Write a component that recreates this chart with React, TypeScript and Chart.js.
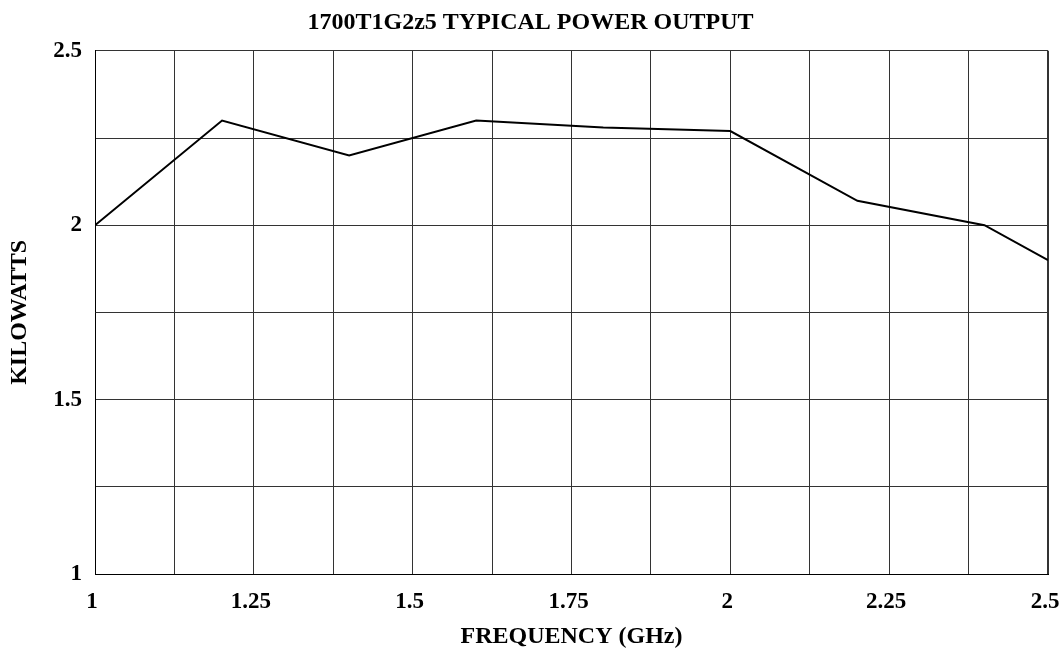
import React, { useEffect, useRef } from "react";
import { Chart, registerables } from "chart.js";

Chart.register(...registerables);

const frequencies = [1.0, 1.2, 1.4, 1.6, 1.8, 2.0, 2.2, 2.4, 2.5];
const kilowatts = [2.0, 2.3, 2.2, 2.3, 2.28, 2.27, 2.07, 2.0, 1.9];

const titleText = "1700T1G2z5 TYPICAL POWER OUTPUT";
const xTitle = "FREQUENCY (GHz)";
const yTitle = "KILOWATTS";

const FONT = "'Liberation Serif', 'Times New Roman', serif";

export default function App() {
  const ref = useRef<HTMLCanvasElement | null>(null);

  useEffect(() => {
    if (!ref.current) return;
    const chart = new Chart(ref.current, {
      type: "line",
      data: {
        datasets: [
          {
            data: frequencies.map((f, i) => ({ x: f, y: kilowatts[i] })),
            borderColor: "#000",
            borderWidth: 2,
            pointRadius: 0,
            tension: 0,
            fill: false,
          },
        ],
      },
      options: {
        animation: false,
        responsive: false,
        devicePixelRatio: 1,
        layout: { padding: 0 },
        plugins: {
          legend: { display: false },
          tooltip: { enabled: false },
          title: {
            display: true,
            text: titleText,
            color: "#000",
            font: { family: FONT, size: 24, weight: "bold", lineHeight: 1.2 },
            padding: { top: 8, bottom: 14 },
          },
        },
        scales: {
          x: {
            type: "linear",
            min: 1,
            max: 2.5,
            border: { display: true, color: "#000", width: 1 },
            grid: {
              color: "#333",
              lineWidth: (ctx: any) => (ctx.index === 12 ? 2 : 1),
              drawTicks: false,
            },
            ticks: {
              stepSize: 0.125,
              autoSkip: false,
              maxRotation: 0,
              padding: 14,
              labelOffset: -3,
              color: "#000",
              font: { family: FONT, size: 23, weight: "bold" },
              callback: (v: any) => {
                const n = Number(v);
                return Math.abs(n * 4 - Math.round(n * 4)) < 1e-6 ? String(n) : "";
              },
            },
            title: {
              display: true,
              text: xTitle,
              color: "#000",
              font: { family: FONT, size: 24, weight: "bold", lineHeight: 1 },
              padding: { top: 0, bottom: 0 },
            },
            afterFit: (s: any) => {
              s.height = 75;
              s.paddingLeft = 0;
              s.paddingRight = 13;
            },
          },
          y: {
            type: "linear",
            min: 1,
            max: 2.5,
            border: { display: true, color: "#000", width: 1 },
            grid: { color: "#333", lineWidth: 1, drawTicks: false },
            ticks: {
              stepSize: 0.25,
              autoSkip: false,
              padding: 13,
              color: "#000",
              font: { family: FONT, size: 23, weight: "bold" },
              callback: (v: any) => {
                const n = Number(v);
                return Math.abs(n * 2 - Math.round(n * 2)) < 1e-6 ? String(n) : "";
              },
            },
            title: {
              display: true,
              text: yTitle,
              color: "#000",
              font: { family: FONT, size: 24, weight: "bold", lineHeight: 1 },
              padding: { top: 7.5, bottom: 0 },
            },
            afterFit: (s: any) => {
              s.width = 95;
            },
          },
        },
      },
    });
    return () => chart.destroy();
  }, []);

  return (
    <div style={{ position: "fixed", left: 0, top: 0, width: 1061, height: 649, background: "#fff" }}>
      <canvas ref={ref} width={1061} height={649} style={{ display: "block" }} />
    </div>
  );
}
